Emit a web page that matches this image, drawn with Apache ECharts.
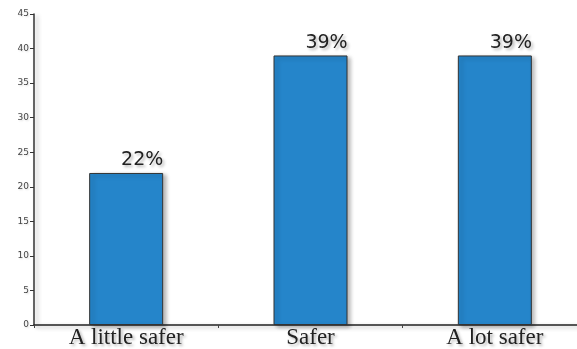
<!DOCTYPE html>
<html>
<head>
<meta charset="utf-8">
<script src="https://cdn.jsdelivr.net/npm/echarts@6/dist/echarts.min.js"></script>
<style>
  html, body { margin: 0; padding: 0; background: #fff; }
  #chart { width: 577px; height: 349px; }
</style>
</head>
<body>
<div id="chart"></div>
<script>
// Survey answers and their shares (percent)
const categories = ['A little safer', 'Safer', 'A lot safer'];
const shares = [22, 39, 39];
const yTicks = { min: 0, max: 45, interval: 5 };

const chart = echarts.init(document.getElementById('chart'), null, { renderer: 'canvas' });

const softShadow = {
  shadowColor: 'rgba(0,0,0,0.28)',
  shadowBlur: 4,
  shadowOffsetX: 3,
  shadowOffsetY: 2
};

chart.setOption({
  animation: false,
  grid: { left: 34, width: 553, top: 14, bottom: 24, containLabel: false, outerBoundsMode: 'none' },
  xAxis: {
    type: 'category',
    data: categories,
    axisLine: { lineStyle: { color: '#222', width: 1.5, ...softShadow } },
    axisTick: { show: true, length: 3, lineStyle: { color: '#444' } },
    axisLabel: {
      margin: 1,
      fontFamily: 'Liberation Serif',
      fontSize: 23,
      color: '#222',
      textShadowColor: 'rgba(0,0,0,0.3)',
      textShadowBlur: 3,
      textShadowOffsetX: 2,
      textShadowOffsetY: 2
    }
  },
  yAxis: {
    type: 'value',
    min: yTicks.min,
    max: yTicks.max,
    interval: yTicks.interval,
    splitLine: { show: false },
    axisLine: { show: true, lineStyle: { color: '#333', width: 1.5, ...softShadow } },
    axisTick: { show: true, length: 4, lineStyle: { color: '#333' } },
    axisLabel: {
      margin: 5,
      fontFamily: 'DejaVu Sans',
      fontSize: 9,
      color: '#444',
      textShadowColor: 'rgba(0,0,0,0.15)',
      textShadowBlur: 2,
      textShadowOffsetX: 1,
      textShadowOffsetY: 1
    }
  },
  series: [{
    type: 'bar',
    data: shares,
    barWidth: 74,
    itemStyle: {
      color: '#2585CA',
      borderColor: '#333',
      borderWidth: 1,
      ...softShadow
    },
    label: {
      show: true,
      position: 'top',
      distance: 3,
      offset: [16, 0],
      formatter: '{c}%',
      fontFamily: 'DejaVu Sans',
      fontSize: 19,
      color: '#222',
      textShadowColor: 'rgba(0,0,0,0.3)',
      textShadowBlur: 3,
      textShadowOffsetX: 2,
      textShadowOffsetY: 2
    }
  }]
});
</script>
</body>
</html>
